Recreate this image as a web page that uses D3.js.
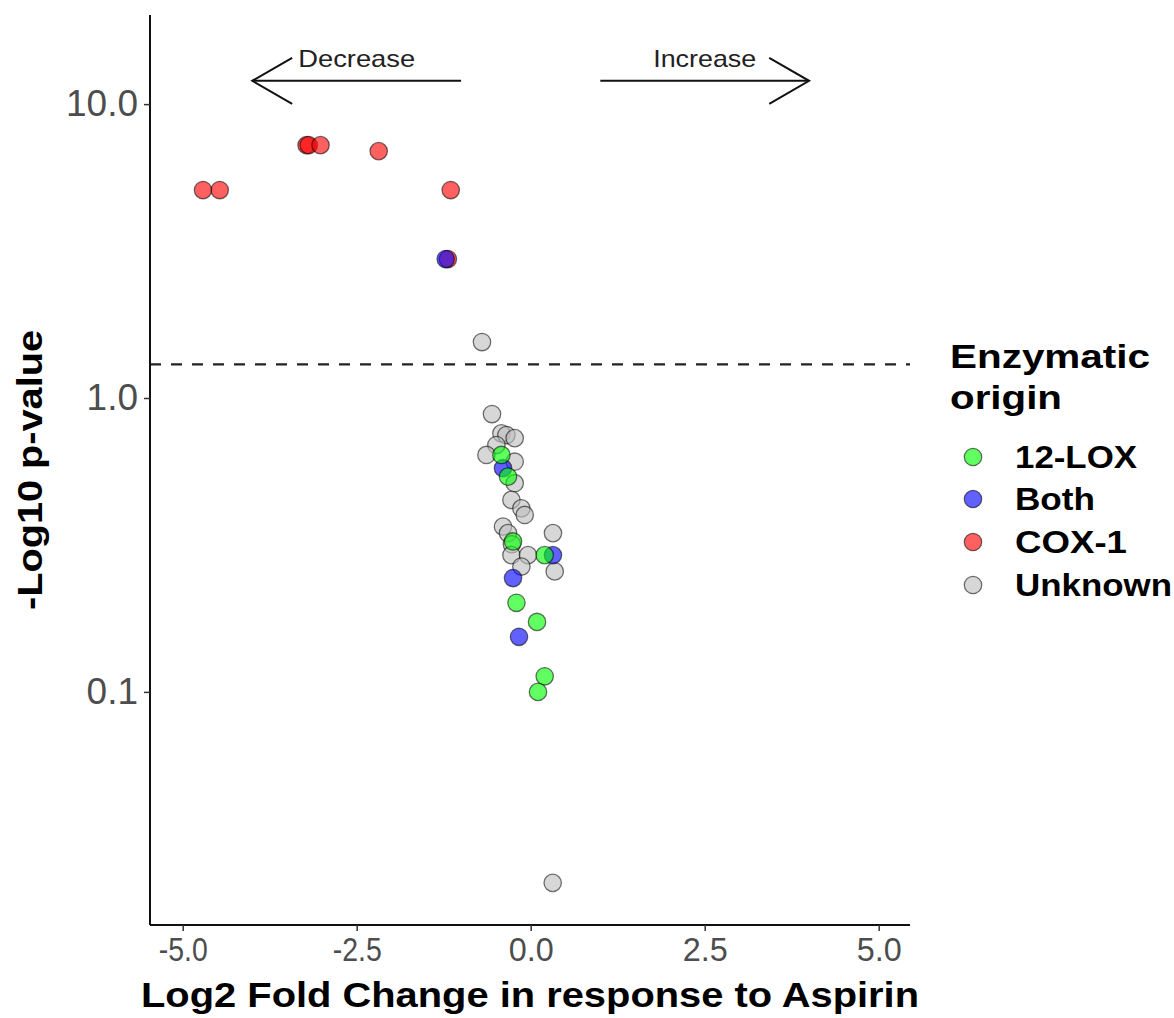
<!DOCTYPE html>
<html>
<head>
<meta charset="utf-8">
<script src="https://cdn.jsdelivr.net/npm/d3@7"></script>
<style>
  html, body { margin: 0; padding: 0; background: #fff; }
  svg { display: block; font-family: "Liberation Sans", Arial, Helvetica, sans-serif; }
</style>
</head>
<body>
<svg id="chart" width="1174" height="1018"></svg>
<script>
// ---- Data ----
const unknownFC = [-0.70, -0.556, -0.421, -0.349, -0.230, -0.493, -0.636, -0.230, -0.230, -0.277, -0.134, -0.086, -0.398, -0.326, 0.320, -0.270, -0.277, -0.039, -0.134, 0.345, 0.316];
const unknownP  = [1.55, 0.882, 0.758, 0.748, 0.730, 0.692, 0.640, 0.607, 0.513, 0.450, 0.421, 0.400, 0.365, 0.347, 0.347, 0.318, 0.292, 0.292, 0.267, 0.257, 0.0224];

const cox1FC = [-4.708, -4.468, -3.22, -3.19, -3.02, -2.184, -1.149, -1.19];
const cox1P  = [5.10, 5.10, 7.25, 7.25, 7.25, 6.92, 5.10, 2.97];

const bothFC = [-1.221, -0.398, 0.320, -0.254, -0.168];
const bothP  = [2.97, 0.577, 0.292, 0.244, 0.154];

const loxFC = [-0.421, -0.326, -0.254, 0.201, -0.205, 0.091, 0.201, 0.105];
const loxP  = [0.640, 0.540, 0.325, 0.292, 0.201, 0.173, 0.113, 0.100];

const origins = ["12-LOX", "Both", "COX-1", "Unknown"];
const originColors = ["#00ff00", "#0000ff", "#ff0000", "#bebebe"];

const xTicks = [-5.0, -2.5, 0.0, 2.5, 5.0];
const yTicks = [0.1, 1.0, 10.0];
const pThreshold = 1.30103; // -log10(0.05)

const arrowSpecs = [
  { label: "Decrease", from: -1.0, to: -4.0, textX: -2.5 },
  { label: "Increase", from: 1.0,  to: 4.0,  textX: 2.5 }
];
const arrowY = 12.0, arrowTextY = 14.3;

// ---- Layout ----
const svg = d3.select("#chart");
const panel = { left: 150, right: 910, top: 15, bottom: 925 };

const x = d3.scaleLinear().domain([-5.47, 5.45]).range([panel.left, panel.right]);
const y = d3.scaleLog().domain([0.0161, 20.1]).range([panel.bottom, panel.top]);
const color = d3.scaleOrdinal().domain(origins).range(originColors);

// dashed threshold line
svg.append("line")
  .attr("x1", panel.left).attr("x2", panel.right)
  .attr("y1", y(pThreshold)).attr("y2", y(pThreshold))
  .attr("stroke", "#222").attr("stroke-width", 2.2)
  .attr("stroke-dasharray", "11,10");

// arrows
const arrowG = svg.append("g");
arrowSpecs.forEach(a => {
  const yy = y(arrowY);
  const x0 = x(a.from), x1 = x(a.to);
  const dir = Math.sign(x1 - x0);
  const len = 46, ang = Math.PI / 6;
  arrowG.append("line")
    .attr("x1", x0).attr("x2", x1).attr("y1", yy).attr("y2", yy)
    .attr("stroke", "#111").attr("stroke-width", 2);
  arrowG.append("path")
    .attr("d", `M${x1 - dir * len * Math.cos(ang)},${yy - len * Math.sin(ang)} L${x1},${yy} L${x1 - dir * len * Math.cos(ang)},${yy + len * Math.sin(ang)}`)
    .attr("fill", "none").attr("stroke", "#111").attr("stroke-width", 2);
  arrowG.append("text")
    .attr("x", x(a.textX)).attr("y", y(arrowTextY))
    .attr("text-anchor", "middle").attr("dominant-baseline", "central")
    .attr("font-size", 24).attr("fill", "#222")
    .attr("textLength", a.label === "Decrease" ? 117 : 103)
    .attr("lengthAdjust", "spacingAndGlyphs")
    .text(a.label);
});

// points
function drawSeries(fc, p, origin) {
  const data = fc.map((v, i) => ({ fc: v, p: p[i], origin }));
  svg.append("g").selectAll("circle").data(data).join("circle")
    .attr("cx", d => x(d.fc))
    .attr("cy", d => y(d.p))
    .attr("r", 8.7)
    .attr("fill", d => color(d.origin))
    .attr("fill-opacity", 0.62)
    .attr("stroke", "#000")
    .attr("stroke-opacity", 0.55)
    .attr("stroke-width", 1.3);
}
drawSeries(unknownFC, unknownP, "Unknown");
drawSeries(cox1FC, cox1P, "COX-1");
drawSeries(bothFC, bothP, "Both");
drawSeries(loxFC, loxP, "12-LOX");

// axes
const xAxis = d3.axisBottom(x).tickValues(xTicks).tickFormat(d3.format(".1f")).tickSizeOuter(0).tickSize(6).tickPadding(6);
const gx = svg.append("g").attr("transform", `translate(0,${panel.bottom})`).call(xAxis);
gx.select(".domain").attr("stroke", "#111").attr("stroke-width", 2).attr("d", `M${panel.left},0H${panel.right}`);
gx.selectAll(".tick line").attr("stroke", "#333").attr("stroke-width", 1.5);
gx.selectAll(".tick text").attr("font-size", 34).attr("fill", "#4d4d4d")
  .attr("font-family", "Liberation Sans, Arial, sans-serif")
  .attr("textLength", d => d < 0 ? 49 : 45)
  .attr("lengthAdjust", "spacingAndGlyphs")
  .text(d => d3.format(".1f")(d).replace("−", "-"));

const yAxis = d3.axisLeft(y).tickValues(yTicks).tickFormat(d3.format(".1f")).tickSizeOuter(0).tickSize(6).tickPadding(6);
const gy = svg.append("g").attr("transform", `translate(${panel.left},0)`).call(yAxis);
gy.select(".domain").attr("stroke", "#111").attr("stroke-width", 2).attr("d", `M0,${panel.top}V${panel.bottom}`);
gy.selectAll(".tick line").attr("stroke", "#333").attr("stroke-width", 1.5);
gy.selectAll(".tick text").attr("font-size", 37).attr("fill", "#4d4d4d")
  .attr("font-family", "Liberation Sans, Arial, sans-serif");

// axis titles
svg.append("text")
  .attr("x", 530).attr("y", 1007)
  .attr("text-anchor", "middle")
  .attr("font-size", 35).attr("font-weight", "bold").attr("fill", "#000")
  .attr("textLength", 778).attr("lengthAdjust", "spacingAndGlyphs")
  .text("Log2 Fold Change in response to Aspirin");

svg.append("text")
  .attr("transform", `translate(42,${(panel.top + panel.bottom) / 2}) rotate(-90)`)
  .attr("text-anchor", "middle")
  .attr("font-size", 35).attr("font-weight", "bold").attr("fill", "#000")
  .attr("textLength", 280).attr("lengthAdjust", "spacingAndGlyphs")
  .text("-Log10 p-value");

// legend
const lg = svg.append("g").attr("transform", "translate(950,0)");
lg.append("text").attr("x", 0).attr("y", 368)
  .attr("font-size", 34).attr("font-weight", "bold")
  .attr("textLength", 200).attr("lengthAdjust", "spacingAndGlyphs").text("Enzymatic");
lg.append("text").attr("x", 0).attr("y", 409)
  .attr("font-size", 34).attr("font-weight", "bold")
  .attr("textLength", 112).attr("lengthAdjust", "spacingAndGlyphs").text("origin");
const itemY = [457, 499, 542, 585];
const itemLen = [122, 80, 112, 157];
origins.forEach((o, i) => {
  lg.append("circle").attr("cx", 23).attr("cy", itemY[i]).attr("r", 8.7)
    .attr("fill", color(o)).attr("fill-opacity", 0.62)
    .attr("stroke", "#000").attr("stroke-opacity", 0.55).attr("stroke-width", 1.3);
  lg.append("text").attr("x", 65).attr("y", itemY[i]).attr("dominant-baseline", "central")
    .attr("font-size", 31).attr("font-weight", "bold")
    .attr("textLength", itemLen[i]).attr("lengthAdjust", "spacingAndGlyphs")
    .text(o);
});
</script>
</body>
</html>
